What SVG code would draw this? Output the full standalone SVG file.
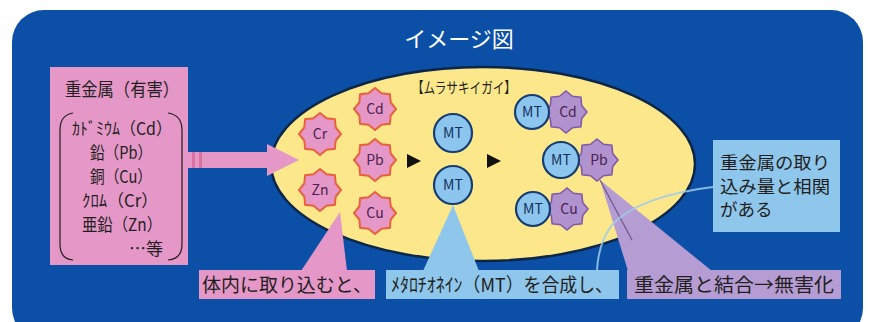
<svg xmlns="http://www.w3.org/2000/svg" xmlns:xlink="http://www.w3.org/1999/xlink" width="870" height="322" viewBox="0 0 870 322">
  <style>
    text { font-family: "Noto Sans CJK JP", "Noto Sans", sans-serif; }
    .dark { fill: #231f20; }
    .pink { fill: #e597c8; }
    .blue { fill: #8ec6ec; }
    .purple { fill: #b59cd3; }
    .pstar { fill: #e597c8; stroke: #e8623e; stroke-width: 2; }
    .vstar { fill: #b092cf; stroke: #8159a8; stroke-width: 1.6; }
    .mt { fill: #8cc5ee; stroke: #163d72; stroke-width: 2.2; }
    .el { font-size: 14px; fill: #4a2350; text-anchor: middle; }
    .mtt { font-size: 14px; fill: #15305c; text-anchor: middle; }
  </style>
  <defs>
    <polygon id="star" points="0,-21 6.5,-15.7 14.85,-14.85 15.7,-6.5 21,0 15.7,6.5 14.85,14.85 6.5,15.7 0,21 -6.5,15.7 -14.85,14.85 -15.7,6.5 -21,0 -15.7,-6.5 -14.85,-14.85 -6.5,-15.7"/>
  </defs>

  <!-- panel -->
  <rect x="0" y="0" width="870" height="322" fill="#ffffff"/>
  <rect x="12" y="10" width="851" height="330" rx="32" fill="#0b4fa6"/>
  <text x="459" y="47" font-size="22" fill="#ffffff" text-anchor="middle">イメージ図</text>

  <!-- source list -->
  <g id="heavy-metals">
    <rect x="50" y="67" width="138" height="198" class="pink"/>
    <text x="122" y="96" font-size="18" class="dark" text-anchor="middle" textLength="114" lengthAdjust="spacingAndGlyphs">重金属（有害）</text>
    <path d="M73,113 Q60,115 60,130 L60,244 Q60,259 73,260 M168,113 Q182,115 182,130 L182,244 Q182,259 168,260" fill="none" stroke="#231f20" stroke-width="1.2"/>
    <g font-size="17" class="dark" text-anchor="middle">
      <text x="122" y="135" textLength="100" lengthAdjust="spacingAndGlyphs">ｶﾄﾞﾐｳﾑ（Cd）</text>
      <text x="121" y="159" textLength="62" lengthAdjust="spacingAndGlyphs">鉛（Pb）</text>
      <text x="121" y="183" textLength="62" lengthAdjust="spacingAndGlyphs">銅（Cu）</text>
      <text x="120" y="207" textLength="76" lengthAdjust="spacingAndGlyphs">ｸﾛﾑ（Cr）</text>
      <text x="122" y="231" textLength="80" lengthAdjust="spacingAndGlyphs">亜鉛（Zn）</text>
      <text x="163" y="255" text-anchor="end">…等</text>
    </g>
  </g>

  <!-- mussel body -->
  <g id="mussel">
    <ellipse cx="483" cy="164" rx="212" ry="97" fill="#fce88b" stroke="#0d2648" stroke-width="2.5"/>
    <text x="464" y="93" font-size="15" class="dark" text-anchor="middle" textLength="104" lengthAdjust="spacingAndGlyphs">【ムラサキイガイ】</text>
  </g>

  <!-- connectors -->
  <g id="connectors">
    <path d="M188,152 L267,152 L267,144 L299,160 L267,176 L267,168 L188,168 Z" fill="#e597c8"/>
    <rect x="192" y="152" width="3" height="16" fill="#d8739e"/>
    <rect x="199" y="152" width="3" height="16" fill="#d8739e"/>
    <polygon points="407,154 421,161 407,168" fill="#111111"/>
    <polygon points="487,154 501,161 487,168" fill="#111111"/>
    <polygon points="340,212 301,271 347,271" class="pink"/>
    <polygon points="453,205 423,271 479,271" class="blue"/>
    <polygon points="600,180 628,271 712,271" class="purple"/>
    <path d="M600,180 L632,240" stroke="#3d2a52" stroke-width="1.2" opacity="0.6"/>
    <path d="M713,187 C670,192 630,205 612,225 C602,238 598,252 597,270" fill="none" stroke="#9ccbea" stroke-width="2" opacity="0.85"/>
  </g>

  <!-- absorbed metals -->
  <g id="metal-cr"><use xlink:href="#star" x="320" y="134" class="pstar"/><text x="320" y="139" class="el">Cr</text></g>
  <g id="metal-zn"><use xlink:href="#star" x="320" y="190" class="pstar"/><text x="320" y="195" class="el">Zn</text></g>
  <g id="metal-cd"><use xlink:href="#star" x="375" y="109" class="pstar"/><text x="375" y="114" class="el">Cd</text></g>
  <g id="metal-pb"><use xlink:href="#star" x="375" y="160" class="pstar"/><text x="375" y="165" class="el">Pb</text></g>
  <g id="metal-cu"><use xlink:href="#star" x="375" y="213" class="pstar"/><text x="375" y="218" class="el">Cu</text></g>

  <!-- metallothionein -->
  <g id="mt-1"><circle cx="453" cy="133" r="19" class="mt"/><text x="453" y="138" class="mtt">MT</text></g>
  <g id="mt-2"><circle cx="453" cy="185" r="19" class="mt"/><text x="453" y="190" class="mtt">MT</text></g>

  <!-- bound complexes -->
  <g id="bound-cd">
    <use xlink:href="#star" x="566" y="112" class="vstar"/>
    <circle cx="532" cy="112" r="17" class="mt"/>
    <text x="532" y="117" class="mtt">MT</text>
    <text x="568" y="117" class="el">Cd</text>
  </g>
  <g id="bound-pb">
    <use xlink:href="#star" x="597" y="160" class="vstar"/>
    <circle cx="561" cy="160" r="18" class="mt"/>
    <text x="561" y="165" class="mtt">MT</text>
    <text x="599" y="165" class="el">Pb</text>
  </g>
  <g id="bound-cu">
    <use xlink:href="#star" x="567" y="209" class="vstar"/>
    <circle cx="533" cy="209" r="17" class="mt"/>
    <text x="533" y="214" class="mtt">MT</text>
    <text x="569" y="214" class="el">Cu</text>
  </g>

  <!-- notes -->
  <g id="note-correlation">
    <rect x="713" y="140" width="127" height="92" class="blue"/>
    <g font-size="17.5" class="dark">
      <text x="720" y="169" textLength="110" lengthAdjust="spacingAndGlyphs">重金属の取り</text>
      <text x="720" y="193" textLength="110" lengthAdjust="spacingAndGlyphs">込み量と相関</text>
      <text x="720" y="216">がある</text>
    </g>
  </g>
  <g id="label-intake">
    <rect x="199" y="270" width="176" height="29" class="pink"/>
    <text x="287" y="292" font-size="19" class="dark" text-anchor="middle" textLength="170" lengthAdjust="spacingAndGlyphs">体内に取り込むと、</text>
  </g>
  <g id="label-synthesis">
    <rect x="386" y="270" width="233" height="29" class="blue"/>
    <text x="502" y="292" font-size="19" class="dark" text-anchor="middle" textLength="222" lengthAdjust="spacingAndGlyphs">ﾒﾀﾛﾁｵﾈｲﾝ（MT）を合成し、</text>
  </g>
  <g id="label-binding">
    <rect x="627" y="270" width="214" height="29" class="purple"/>
    <text x="734" y="292" font-size="19" class="dark" text-anchor="middle" textLength="200" lengthAdjust="spacingAndGlyphs">重金属と結合→無害化</text>
  </g>
</svg>
